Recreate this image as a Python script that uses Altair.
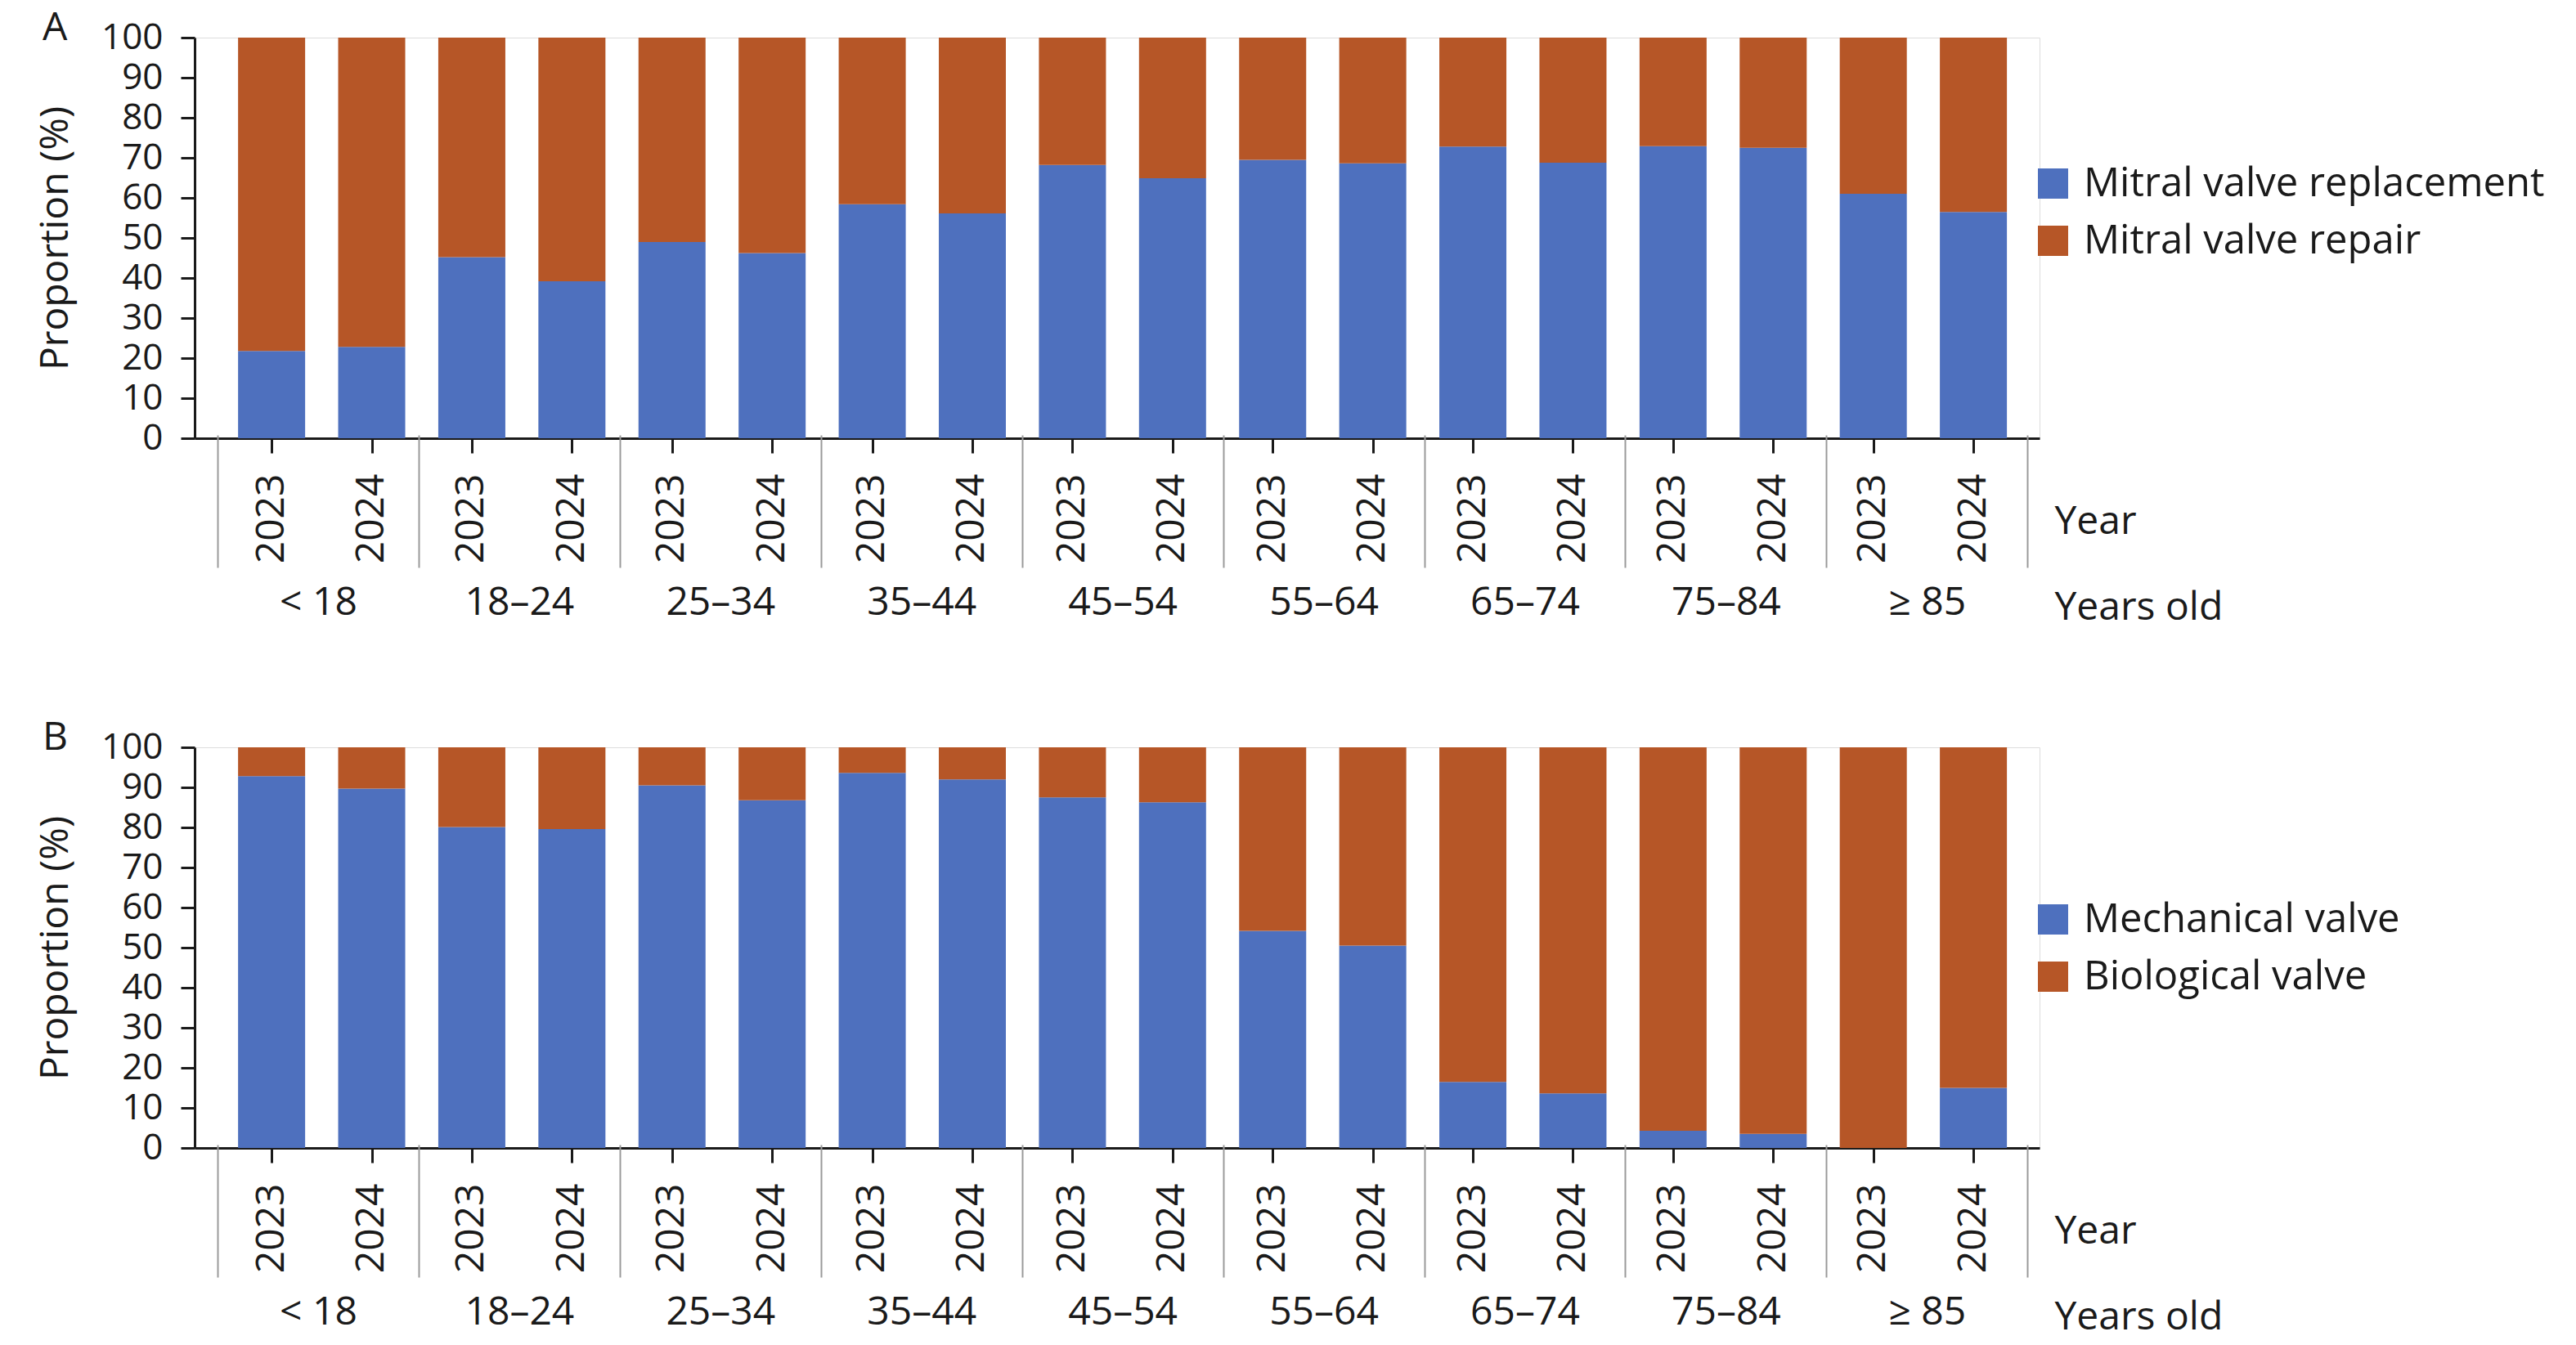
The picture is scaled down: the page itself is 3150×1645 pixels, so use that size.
import json
import altair as alt
import pandas as pd

# ---------------- data ----------------
groups = ["< 18", "18–24", "25–34", "35–44", "45–54", "55–64", "65–74", "75–84", "≥ 85"]
years = ["2023", "2024"]

a_series = ["Mitral valve replacement", "Mitral valve repair"]
a_replacement = [21.8, 22.8, 45.2, 39.2, 49.0, 46.2, 58.4, 56.1, 68.2, 64.9,
                 69.5, 68.6, 72.8, 68.8, 72.9, 72.5, 61.0, 56.5]
a_repair = [78.2, 77.2, 54.8, 60.8, 51.0, 53.8, 41.6, 43.9, 31.8, 35.1,
            30.5, 31.4, 27.2, 31.2, 27.1, 27.5, 39.0, 43.5]

b_series = ["Mechanical valve", "Biological valve"]
b_mechanical = [92.8, 89.7, 80.1, 79.6, 90.5, 86.8, 93.6, 92.0, 87.5, 86.3,
                54.2, 50.5, 16.5, 13.6, 4.3, 3.5, 0.0, 15.0]
b_biological = [7.2, 10.3, 19.9, 20.4, 9.5, 13.2, 6.4, 8.0, 12.5, 13.7,
                45.8, 49.5, 83.5, 86.4, 95.7, 96.5, 100.0, 85.0]

y_ticks = list(range(0, 101, 10))
colors = ["#4E70BE", "#B65627"]

# ---------------- styling ----------------
FONT = "Open Sans"
TXT = "#1a1a1a"
W, H = 2256, 490

n_years = len(years)
n_slots = len(groups) * n_years
slot_centers = [i + 0.5 for i in range(n_slots)]
group_centers = [n_years * g + n_years / 2 for g in range(len(groups))]
separators = [n_years * g for g in range(len(groups) + 1)]
x_domain = [-0.228, n_slots + 0.12]

year_expr = f"{json.dumps(years)}[floor(datum.value) % {n_years}]"
group_expr = f"{json.dumps(groups, ensure_ascii=False)}[floor(datum.value / {n_years})]"


def long_df(series, values_list):
    rows = []
    for s_idx, (name, vals) in enumerate(zip(series, values_list)):
        for i, v in enumerate(vals):
            rows.append({
                "pos": slot_centers[i],
                "group": groups[i // n_years],
                "year": years[i % n_years],
                "series": name,
                "ord": s_idx,
                "value": v,
            })
    return pd.DataFrame(rows)


def panel(letter, series, values_list, legend_y):
    df = long_df(series, values_list)
    xscale = alt.Scale(domain=x_domain, nice=False, zero=False)
    yscale = alt.Scale(domain=[0, 100], nice=False)

    bars = alt.Chart(df).mark_bar(size=82).encode(
        x=alt.X(
            "pos:Q",
            scale=xscale,
            axis=alt.Axis(
                orient="bottom",
                values=slot_centers,
                labelExpr=year_expr,
                labelAngle=270,
                labelFont=FONT,
                labelFontSize=48,
                labelColor=TXT,
                labelPadding=25,
                tickSize=18,
                tickWidth=3,
                tickColor=TXT,
                domainColor=TXT,
                domainWidth=3,
                grid=False,
                title="Year",
                titleFont=FONT,
                titleFontSize=48,
                titleFontWeight="normal",
                titleColor=TXT,
                titleAngle=0,
                titleAlign="left",
                titleBaseline="alphabetic",
                titleX=2274,
                titleY=116,
            ),
        ),
        y=alt.Y(
            "value:Q",
            stack="zero",
            scale=yscale,
            axis=alt.Axis(
                values=y_ticks,
                labelFont=FONT,
                labelFontSize=44,
                labelColor=TXT,
                labelPadding=22,
                tickSize=17,
                tickWidth=3,
                tickColor=TXT,
                domainColor=TXT,
                domainWidth=3,
                grid=False,
                title="Proportion (%)",
                titleFont=FONT,
                titleFontSize=48,
                titleFontWeight="normal",
                titleColor=TXT,
                titleAngle=270,
                titleBaseline="alphabetic",
                titleX=-156,
                titleY=245,
            ),
        ),
        color=alt.Color(
            "series:N",
            scale=alt.Scale(domain=series, range=colors),
            legend=alt.Legend(
                title=None,
                orient="none",
                legendX=W - 8,
                legendY=legend_y,
                symbolType="square",
                symbolSize=1369,
                symbolStrokeWidth=0,
                symbolOpacity=1,
                labelFont=FONT,
                labelFontSize=49,
                labelColor=TXT,
                labelOffset=13,
                rowPadding=20,
                padding=0,
                labelLimit=0,
            ),
        ),
        order=alt.Order("ord:Q", sort="ascending"),
    )

    gdf = pd.DataFrame({"center": group_centers, "label": groups, "zero": [0] * len(groups)})
    group_layer = alt.Chart(gdf).mark_point(opacity=0).encode(
        x=alt.X(
            "center:Q",
            scale=xscale,
            axis=alt.Axis(
                orient="bottom",
                values=group_centers,
                labelExpr=group_expr,
                labelFont=FONT,
                labelFontSize=48,
                labelColor=TXT,
                labelBaseline="alphabetic",
                labelPadding=215,
                ticks=False,
                domain=False,
                grid=False,
                title="Years old",
                titleFont=FONT,
                titleFontSize=48,
                titleFontWeight="normal",
                titleColor=TXT,
                titleAngle=0,
                titleAlign="left",
                titleBaseline="alphabetic",
                titleX=2274,
                titleY=221,
            ),
        ),
        y=alt.Y("zero:Q", scale=yscale),
    )

    sdf = pd.DataFrame({"sep": separators, "zero": [0] * len(separators)})
    sep_layer = alt.Chart(sdf).mark_point(opacity=0).encode(
        x=alt.X(
            "sep:Q",
            scale=xscale,
            axis=alt.Axis(
                orient="bottom",
                values=separators,
                labels=False,
                domain=False,
                grid=False,
                tickSize=162,
                tickWidth=2,
                tickColor="#9a9a9a",
                offset=-4,
                title=None,
            ),
        ),
        y=alt.Y("zero:Q", scale=yscale),
    )

    return (
        alt.layer(bars, group_layer, sep_layer)
        .resolve_scale(x="independent")
        .resolve_axis(x="independent")
        .properties(
            width=W,
            height=H,
            title=alt.TitleParams(
                letter,
                anchor="start",
                frame="group",
                dx=-186,
                offset=-73,
                baseline="alphabetic",
                font=FONT,
                fontSize=48,
                fontWeight="normal",
                color=TXT,
            ),
        )
    )


panel_a = panel("A", a_series, [a_replacement, a_repair], 154)
panel_b = panel("B", b_series, [b_mechanical, b_biological], 186)

chart = (
    alt.vconcat(panel_a, panel_b, spacing=110)
    .resolve_scale(color="independent")
    .resolve_legend(color="independent")
    .properties(padding={"left": 35, "top": 2, "right": 0, "bottom": 4})
    .configure_view(stroke=None)
    .configure(background="white")
)

chart.save("out.html", embed_options={"renderer": "svg", "actions": False})
